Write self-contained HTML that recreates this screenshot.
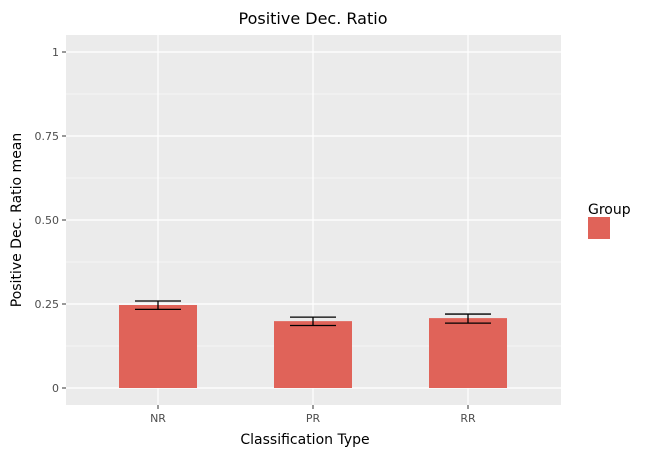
<!DOCTYPE html>
<html><head><meta charset="utf-8"><style>
body{margin:0;background:#fff;}
svg text{font-family:"DejaVu Sans","Liberation Sans",sans-serif;}
</style></head><body>
<svg id="chart" width="661" height="456" viewBox="0 0 661 456">
<rect x="66" y="35" width="495" height="370" fill="#ebebeb"/>
<g id="grid"></g><g id="bars"></g><g id="axes"></g>
<text x="313" y="24" text-anchor="middle" font-size="16" fill="#000">Positive Dec. Ratio</text>
<text x="305" y="444" text-anchor="middle" font-size="14" fill="#000">Classification Type</text>
<text transform="translate(21,220) rotate(-90)" text-anchor="middle" font-size="14" fill="#000">Positive Dec. Ratio mean</text>
<g>
<text x="588" y="214" font-size="14" fill="#000">Group</text>
<rect x="588" y="217" width="22" height="22" fill="#e06359"/>
</g>
</svg>
<script>
const categories=["NR","PR","RR"];
const means=[0.247,0.199,0.208];
const errLow=[0.234,0.186,0.193];
const errHigh=[0.259,0.211,0.220];
const yTicks=[0,0.25,0.5,0.75,1];
const yTickLabels=["0","0.25","0.50","0.75","1"];
const NS="http://www.w3.org/2000/svg";
const y=v=>388-v*336;
const x=i=>158+i*155;
function mk(p,t,a){const e=document.createElementNS(NS,t);for(const k in a)e.setAttribute(k,a[k]);p.appendChild(e);return e;}
const grid=document.getElementById('grid'),bars=document.getElementById('bars'),axes=document.getElementById('axes');
for(let i=0;i<yTicks.length-1;i++){const l=mk(grid,'line',{x1:66,x2:561,y1:y((yTicks[i]+yTicks[i+1])/2),y2:y((yTicks[i]+yTicks[i+1])/2),stroke:'#fff','stroke-width':0.6});

}
yTicks.forEach((v,i)=>{const l=mk(grid,'line',{x1:66,x2:561,y1:y(v),y2:y(v),stroke:'#fff','stroke-width':1.2});


const tk=mk(axes,'line',{x1:62,x2:66,y1:y(v),y2:y(v),stroke:'#333'});


const t=mk(axes,'text',{x:59,y:y(v)+4,'text-anchor':'end','font-size':11,fill:'#4d4d4d'});t.textContent=yTickLabels[i];

});
categories.forEach((c,i)=>{const l=mk(grid,'line',{x1:x(i),x2:x(i),y1:35,y2:405,stroke:'#fff','stroke-width':1.2});


const b=mk(bars,'rect',{x:x(i)-39,width:78,y:y(means[i]),height:y(0)-y(means[i]),fill:'#e06359'});


const g=mk(bars,'g',{stroke:'#000','stroke-width':1.3});


mk(g,'line',{x1:x(i)-23,x2:x(i)+23,y1:y(errHigh[i]),y2:y(errHigh[i])});
mk(g,'line',{x1:x(i)-23,x2:x(i)+23,y1:y(errLow[i]),y2:y(errLow[i])});
mk(g,'line',{x1:x(i),x2:x(i),y1:y(errHigh[i]),y2:y(errLow[i])});
const tk=mk(axes,'line',{x1:x(i),x2:x(i),y1:405,y2:409,stroke:'#333'});


const t=mk(axes,'text',{x:x(i),y:422,'text-anchor':'middle','font-size':11,fill:'#4d4d4d'});t.textContent=c;

});
</script>
</body></html>
